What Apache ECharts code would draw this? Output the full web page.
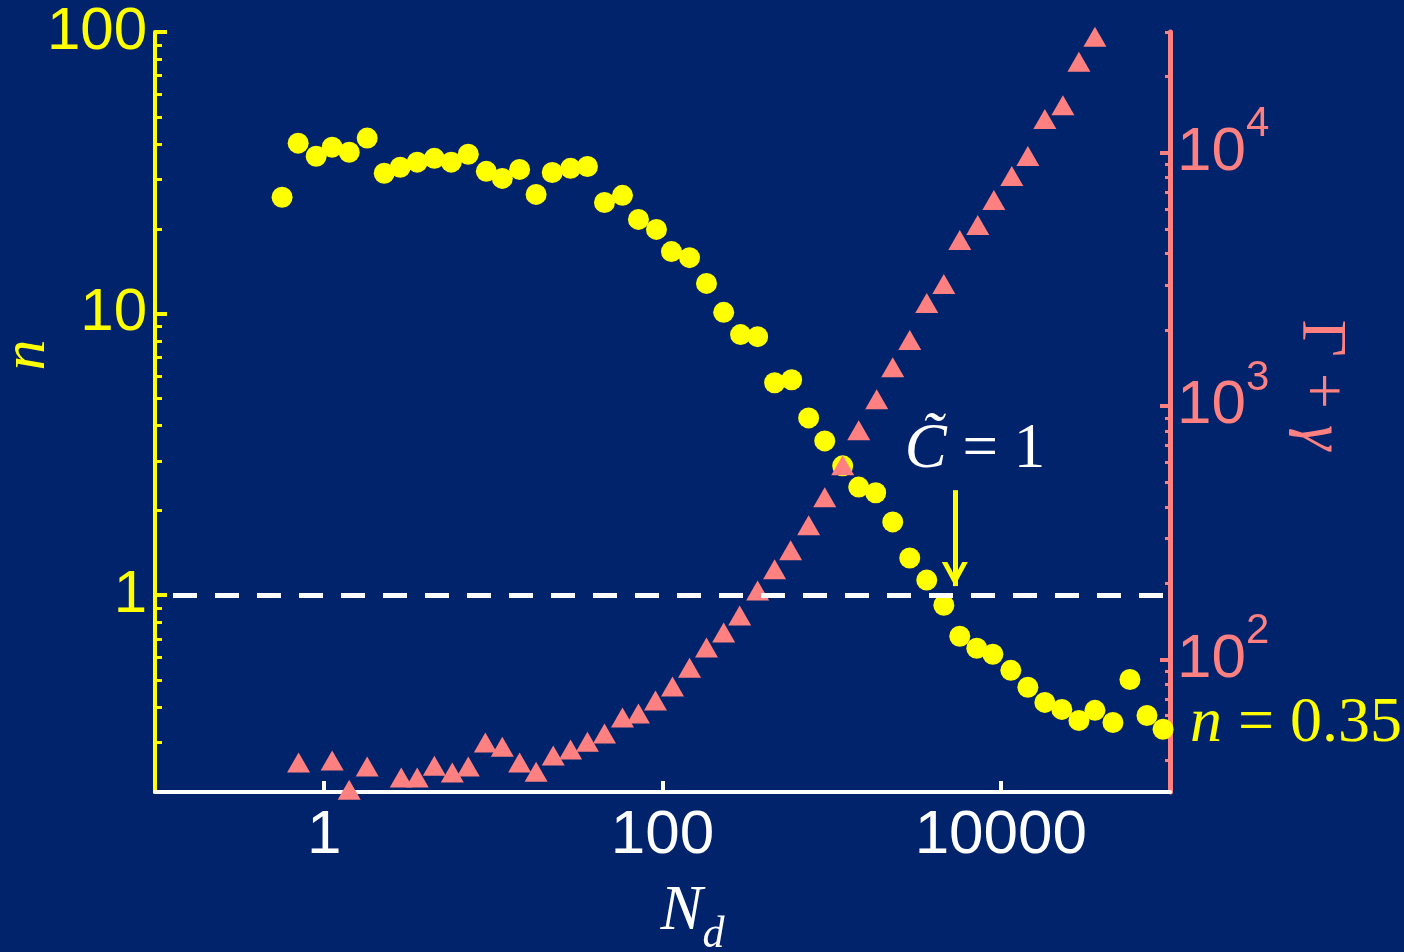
<!DOCTYPE html>
<html>
<head>
<meta charset="utf-8">
<script src="https://cdn.jsdelivr.net/npm/echarts@6/dist/echarts.min.js"></script>
<style>
html,body{margin:0;padding:0;background:#00236C;}
#c{width:1404px;height:952px;}
</style>
</head>
<body>
<div id="c"></div>
<script>
// ---- data ----
const ndCircles = [0.564, 0.702, 0.897, 1.115, 1.406, 1.796, 2.265, 2.816, 3.55, 4.48, 5.64, 7.11, 9.09, 11.3, 14.3, 17.9, 22.3, 28.6, 36.0, 45.4, 58.0, 72.1, 92.1, 113, 144.5, 182, 230, 289.5, 365, 460, 580, 731, 910, 1162, 1445, 1821, 2296, 2895, 3648, 4603, 5719, 7211, 8973, 11460, 14450, 18210, 22950, 28950, 36000, 46000, 57970, 73100, 90990];
const nValues = [25.9, 40.3, 36.2, 39.0, 37.4, 42.0, 31.5, 33.1, 34.5, 35.6, 34.5, 36.8, 32.0, 30.2, 32.5, 26.5, 31.7, 32.8, 33.3, 24.8, 26.3, 21.6, 19.9, 16.6, 15.8, 12.8, 10.1, 8.42, 8.28, 5.68, 5.82, 4.26, 3.53, 2.88, 2.42, 2.31, 1.82, 1.355, 1.131, 0.921, 0.715, 0.648, 0.617, 0.541, 0.471, 0.416, 0.393, 0.359, 0.390, 0.353, 0.502, 0.374, 0.334];
const ndTriangles = [0.706, 1.115, 1.406, 1.796, 2.855, 3.55, 4.48, 5.72, 7.11, 8.97, 11.3, 14.3, 17.9, 22.6, 28.6, 36.0, 45.4, 58.0, 72.1, 90.9, 114.6, 144.5, 182, 230, 286, 365, 460, 572, 731, 910, 1162, 1445, 1846, 2296, 2895, 3648, 4603, 5719, 7305, 9098, 11610, 14450, 18210, 23280, 28950, 36000];
const gammaValues = [39.2, 39.9, 30.6, 37.8, 34.2, 34.2, 38.1, 35.8, 37.8, 47.0, 45.3, 39.2, 36.1, 41.8, 44.1, 47.4, 51.0, 59.0, 61.2, 68.9, 78.2, 92.9, 111.5, 127.9, 149.3, 187.5, 227, 270, 339, 437, 585, 804, 1066, 1426, 1824, 2554, 3036, 4529, 5191, 6515, 8104, 9725, 13620, 15410, 22900, 28710];

// axis tick values
const xTickValues = [1, 100, 10000];
const leftTickValues = [1, 10, 100];
const leftMinorTicks = [0.3, 0.4, 0.5, 0.6, 0.7, 0.8, 0.9, 2, 3, 4, 5, 6, 7, 8, 9, 20, 30, 40, 50, 60, 70, 80, 90];
const rightTickValues = [100, 1000, 10000];
const rightMinorTicks = [40, 50, 60, 70, 80, 90, 200, 300, 400, 500, 600, 700, 800, 900, 2000, 3000, 4000, 5000, 6000, 7000, 8000, 9000, 20000, 30000];

// reference line and annotation arrow (data coordinates)
const refLineN = 1;
const arrowNd = 5345;
const arrowFromN = 2.36;
const arrowToN = 1.077;

// ---- styles ----
const BG = '#00236C';
const YEL = '#FFFF00';
const PINK = '#FF8080';
const WHITE = '#FFFFFF';
const SANS = '"Liberation Sans", Arial, sans-serif';
const SERIF = '"Liberation Serif", "Times New Roman", serif';
const CHEVRON = 'path://M0 24 L13 0 L26 24 L20.5 24 L13 10 L5.5 24 Z';

const chart = echarts.init(document.getElementById('c'), null, {renderer: 'canvas', width: 1404, height: 952});

const intFmt = v => String(Math.round(v));

const option = {
  backgroundColor: BG,
  animation: false,
  grid: {left: 155, right: 234, top: 32, bottom: 160, containLabel: false, outerBoundsMode: 'none'},
  xAxis: [{
    type: 'log', logBase: 10, min: 0.1, max: 100000, position: 'bottom',
    axisLine: {show: true, lineStyle: {color: WHITE, width: 4}},
    axisTick: {show: true, inside: true, length: 11, lineStyle: {color: WHITE, width: 4}, customValues: xTickValues},
    axisLabel: {show: true, customValues: xTickValues, formatter: intFmt, color: WHITE, fontSize: 62, fontFamily: SANS, margin: 13},
    splitLine: {show: false}, minorTick: {show: false},
    name: '{N|N}{d|d}', nameLocation: 'middle', nameGap: 102, nameMoveOverlap: false,
    nameTextStyle: {
      padding: [0, 0, 0, 60],
      rich: {
        N: {fontSize: 63, fontStyle: 'italic', fontFamily: SERIF, color: WHITE, lineHeight: 63, padding: [0, 0, 26, 0]},
        d: {fontSize: 44, fontStyle: 'italic', fontFamily: SERIF, color: WHITE, lineHeight: 44, verticalAlign: 'bottom'}
      }
    }
  }],
  yAxis: [{
    type: 'log', logBase: 10, min: 0.2, max: 100, position: 'left',
    axisLine: {show: true, lineStyle: {color: YEL, width: 4}},
    axisTick: {show: true, inside: true, length: 12, lineStyle: {color: YEL, width: 4}, customValues: leftTickValues},
    axisLabel: {show: true, customValues: leftTickValues, formatter: intFmt, color: YEL, fontSize: 60, fontFamily: SANS, margin: 8},
    splitLine: {show: false}, minorTick: {show: false},
    name: 'n', nameLocation: 'middle', nameRotate: 90, nameGap: 96, nameMoveOverlap: false,
    nameTextStyle: {color: YEL, fontFamily: SERIF, fontStyle: 'italic', fontSize: 62, padding: [0, 0, 0, 114]}
  }, {
    type: 'log', logBase: 10, min: 30, max: 30000, position: 'right',
    axisLine: {show: true, lineStyle: {color: PINK, width: 5}},
    axisTick: {show: true, inside: true, length: 10, lineStyle: {color: PINK, width: 4}, customValues: rightTickValues},
    axisLabel: {
      show: true, customValues: rightTickValues, margin: 7,
      formatter: v => '{b|10}{s|' + Math.round(Math.log10(v)) + '}',
      rich: {
        b: {fontSize: 62, fontFamily: SANS, color: PINK, lineHeight: 62},
        s: {fontSize: 42, fontFamily: SANS, color: PINK, lineHeight: 42, padding: [0, 0, 56, 0]}
      }
    },
    splitLine: {show: false}, minorTick: {show: false},
    name: '{u|\u0393 + }{i|\u03B3}', nameLocation: 'middle', nameRotate: -90, nameGap: 118, nameMoveOverlap: false,
    nameTextStyle: {
      padding: [0, 54, 0, 0],
      rich: {
        u: {fontSize: 64, fontFamily: SERIF, color: PINK},
        i: {fontSize: 64, fontFamily: SERIF, fontStyle: 'italic', color: PINK}
      }
    }
  }, {
    type: 'log', logBase: 10, min: 0.2, max: 100, position: 'left',
    axisLine: {show: false},
    axisTick: {show: true, inside: true, length: 7, lineStyle: {color: YEL, width: 3}, customValues: leftMinorTicks},
    axisLabel: {show: false}, splitLine: {show: false}
  }, {
    type: 'log', logBase: 10, min: 30, max: 30000, position: 'right',
    axisLine: {show: false},
    axisTick: {show: true, inside: true, length: 5, lineStyle: {color: PINK, width: 3}, customValues: rightMinorTicks},
    axisLabel: {show: false}, splitLine: {show: false}
  }],
  series: [{
    type: 'scatter', name: 'n', xAxisIndex: 0, yAxisIndex: 0,
    data: ndCircles.map((x, i) => [x, nValues[i]]),
    symbol: 'circle', symbolSize: 21,
    itemStyle: {color: YEL, opacity: 1},
    emphasis: {disabled: true},
    markLine: {
      silent: true, animation: false, symbol: 'none', label: {show: false}, emphasis: {disabled: true},
      data: [
        {yAxis: refLineN, lineStyle: {color: WHITE, width: 5, type: [24, 18], dashOffset: 24, opacity: 1}},
        [
          {coord: [arrowNd, arrowFromN], symbol: 'none', lineStyle: {color: YEL, width: 5, type: 'solid', opacity: 1}},
          {coord: [arrowNd, arrowToN], symbol: CHEVRON, symbolSize: [26, 24], symbolOffset: [0, 12]}
        ]
      ]
    }
  }, {
    type: 'scatter', name: '\u0393 + \u03B3', xAxisIndex: 0, yAxisIndex: 1,
    data: ndTriangles.map((x, i) => [x, gammaValues[i]]),
    symbol: 'triangle', symbolSize: [23, 20],
    itemStyle: {color: PINK, opacity: 1},
    emphasis: {disabled: true}
  }],
  graphic: [{
    type: 'text', x: 975, y: 450, silent: true,
    style: {
      text: '{i|C\u0303}{u| = 1}',
      align: 'center', verticalAlign: 'middle', textAlign: 'center', textVerticalAlign: 'middle',
      fill: WHITE,
      rich: {
        i: {fontSize: 63, fontFamily: SERIF, fontStyle: 'italic', fill: WHITE},
        u: {fontSize: 63, fontFamily: SERIF, fill: WHITE}
      }
    }
  }, {
    type: 'text', x: 1296, y: 724, silent: true,
    style: {
      text: '{i|n}{u| = 0.35}',
      align: 'center', verticalAlign: 'middle', textAlign: 'center', textVerticalAlign: 'middle',
      fill: YEL,
      rich: {
        i: {fontSize: 64, fontFamily: SERIF, fontStyle: 'italic', fill: YEL},
        u: {fontSize: 64, fontFamily: SERIF, fill: YEL}
      }
    }
  }]
};

chart.setOption(option);
</script>
</body>
</html>
